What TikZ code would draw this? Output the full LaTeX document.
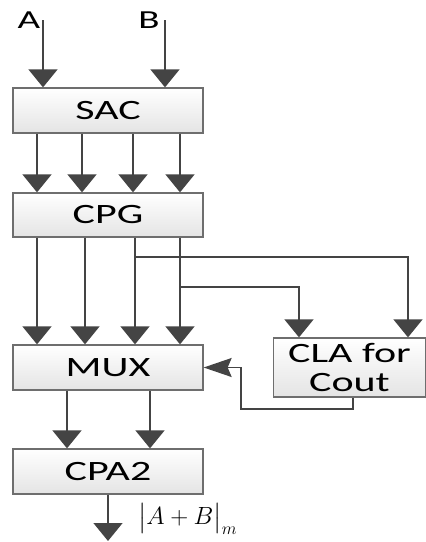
\documentclass[tikz,border=0pt]{standalone}
\usepackage{amsmath}
\usepackage{fontspec}
\setmainfont{Carlito}[FakeStretch=1.5]
\usepackage{tikz}
\usetikzlibrary{arrows.meta,positioning,shapes}
\definecolor{wiregray}{HTML}{444444}
\definecolor{boxline}{HTML}{6E6E6E}
\definecolor{boxfill}{HTML}{E4E4E4}

\begin{document}
\begin{tikzpicture}[x = 1pt, y = -1pt,
	block/.style = {draw = boxline, line width = 1.3pt, top color = white, bottom color = boxfill, minimum width = 190pt, minimum height = 45pt, align = center, font = \fontsize{28}{30}\selectfont, inner sep = 0pt},
	wire/.style = {draw = wiregray, line width = 1.5pt},
	arr/.style = {wire, -{Triangle[width = 29pt, length = 18pt]}},
	fbarr/.style = {wire, -{Stealth[width = 19pt, length = 28pt, inset = 4pt]}}]
	\useasboundingbox (0,0) rectangle (426,542);
	% blocks
	\node[block] (sac) at (108,110.5) {SAC};
	\node[block, minimum height = 44pt] (cpg) at (108,215) {CPG};
	\node[block] (mux) at (108,367.5) {MUX};
	\node[block] (cpa) at (108,471.5) {CPA2};
	\node[block, minimum width = 152pt, minimum height = 59pt, font = \fontsize{28}{29}\selectfont] (cla) at (349.5,367.5) {CLA for\\Cout};
	% inputs
	\node[font = \fontsize{26}{28}\selectfont] (a) at (29,20) {A};
	\node[font = \fontsize{26}{28}\selectfont] (b) at (149,20) {B};
	\coordinate (ain) at (43,20);
	\coordinate (bin) at (165,20);
	\draw[arr] (ain) -- (sac.north -| ain);
	\draw[arr] (bin) -- (sac.north -| bin);
	% SAC -> CPG
	\foreach \x in {37,82,133,180}
		\draw[arr] (sac.south -| \x,0) -- (cpg.north -| \x,0);
	% CPG -> MUX
	\foreach \x in {37,85,135,180}
		\draw[arr] (cpg.south -| \x,0) -- (mux.north -| \x,0);
	% branches to CLA
	\coordinate (t1) at (135,257);
	\coordinate (t2) at (180,287);
	\draw[arr] (t1) -| (cla.north -| 408,0);
	\draw[arr] (t2) -| (cla.north -| 299,0);
	% carry back to MUX
	\draw[fbarr] (cla.south -| 353,0) |- (241,409) |- (mux.east);
	% MUX -> CPA2
	\foreach \x in {67,150}
		\draw[arr] (mux.south -| \x,0) -- (cpa.north -| \x,0);
	% output
	\coordinate (out) at (108,541);
	\draw[arr] (cpa.south) -- (out);
	\node[font = \fontsize{25}{28}\selectfont, anchor = west, inner sep = 0pt] (res) at (138,519) {$\bigl|A+B\bigr|_m$};
\end{tikzpicture}
\end{document}
